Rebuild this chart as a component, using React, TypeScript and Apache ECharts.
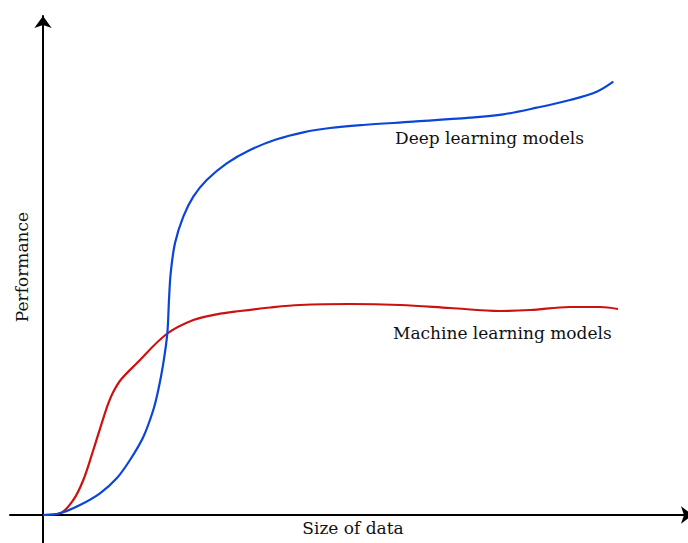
import React, { useEffect, useRef } from "react";
import * as echarts from "echarts";

// Size of data (x) vs performance (y), arbitrary units 0..100
const deepX = [0, 2.96, 6.43, 9.91, 12.82, 15.13, 17.44, 19.18, 20.05, 20.92, 21.62, 21.91, 22.21, 22.96, 24.4, 26.14, 28.47, 31.95, 36.0, 40.64, 45.27, 49.91, 55.65, 64.35, 74.26, 80.05, 85.86, 91.65, 96.3, 99.18];
const deepY = [0, 0.34, 2, 4.34, 7.34, 11, 15.6, 21, 25, 30.34, 36.34, 43, 48.4, 54.4, 59.66, 63.66, 67, 70.34, 73, 75.14, 76.54, 77.4, 78, 78.66, 79.46, 80.14, 81.46, 83, 84.66, 86.66];

const mlX = [0, 2.96, 5.27, 7.01, 8.75, 10.21, 11.36, 12.26, 13.57, 16.3, 21.51, 26.14, 30.21, 34.26, 39.48, 44.7, 53.39, 62.09, 70.78, 79.48, 84.7, 91.65, 96.87, 100];
const mlY = [0, 0.34, 3, 7, 13, 18.34, 22.34, 24.7, 27.1, 30.34, 36.2, 39, 40.14, 40.8, 41.5, 42, 42.2, 42, 41.4, 40.8, 41, 41.6, 41.6, 41.2];

const labels = ["Deep learning models", "Machine learning models"];
const axisNames = ["Size of data", "Performance"];

const FONT = "DejaVu Serif";

export default function App() {
  const ref = useRef<HTMLDivElement>(null);
  useEffect(() => {
    if (!ref.current) return;
    const chart = echarts.init(ref.current, null, { renderer: "svg" });
    const zip = (xs: number[], ys: number[]) => xs.map((x, i) => [x, ys[i]]);
    const axisCommon = {
      type: "value",
      axisLine: {
        onZero: true,
        symbol: ["none", "arrow"],
        symbolSize: [13, 12],
        lineStyle: { color: "#000", width: 2 },
      },
      axisTick: { show: false },
      axisLabel: { show: false },
      splitLine: { show: false },
    };
    chart.setOption({
      animation: false,
      backgroundColor: "#ffffff",
      grid: { left: 10, top: 16, width: 683, height: 527, containLabel: false, outerBoundsMode: "none" },
      xAxis: { ...axisCommon, min: -5.739, max: 113.04 },
      yAxis: { ...axisCommon, min: -5.6, max: 99.8 },
      series: [
        {
          type: "line",
          name: labels[0],
          data: zip(deepX, deepY),
          smooth: 0.35,
          showSymbol: false,
          lineStyle: { color: "#0b45d8", width: 2.2 },
          z: 3,
        },
        {
          type: "line",
          name: labels[1],
          data: zip(mlX, mlY),
          smooth: 0.35,
          showSymbol: false,
          lineStyle: { color: "#cc1111", width: 2.2 },
          z: 2,
        },
      ],
      graphic: [
        {
          type: "text",
          left: 395,
          top: 129,
          style: { text: labels[0], fontFamily: FONT, fontSize: 17, fill: "#111" },
        },
        {
          type: "text",
          left: 393,
          top: 324,
          style: { text: labels[1], fontFamily: FONT, fontSize: 17, fill: "#111" },
        },
        {
          type: "text",
          x: 353,
          y: 528,
          style: { text: axisNames[0], fontFamily: FONT, fontSize: 17, fill: "#111", align: "center", verticalAlign: "middle" },
        },
        {
          type: "text",
          x: 22,
          y: 267,
          rotation: Math.PI / 2,
          style: { text: axisNames[1], fontFamily: FONT, fontSize: 17, fill: "#111", align: "center", verticalAlign: "middle" },
        },
      ],
    });
    return () => chart.dispose();
  }, []);
  return (
    <div style={{ position: "fixed", left: 0, top: 0, width: 688, height: 543, overflow: "hidden", background: "#fff" }}>
      <div ref={ref} style={{ width: 710, height: 543 }} />
    </div>
  );
}
